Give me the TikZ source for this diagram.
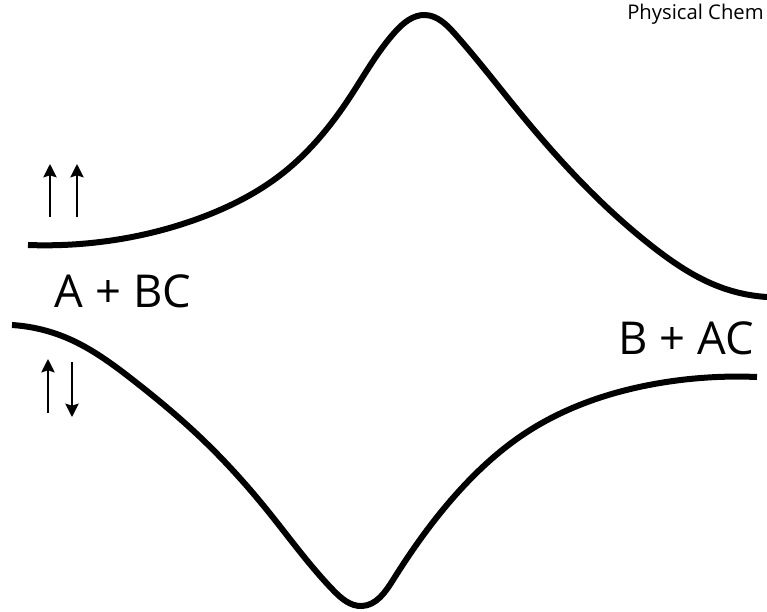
\documentclass[tikz,border=0pt]{standalone}
\usepackage{fontspec}
\setmainfont{Open Sans}
\usetikzlibrary{arrows.meta,hobby}

\begin{document}
\begin{tikzpicture}[
    x=0.75pt, y=-0.75pt,
    >={Stealth[length=10pt,width=10pt,inset=1.5pt]},
    use Hobby shortcut,
    surface/.style={line width=4.5pt, line join=round},
    spin/.style={->, line width=1.5pt},
    species/.style={inner sep=0pt, font=\fontsize{34}{40}\selectfont},
    every node/.style={text=black}
]
  \useasboundingbox (0,0) rectangle (767,611);

  % upper (triplet) surface
  \draw[surface] (28,245) .. (100,242) .. (200,218) .. (283,173)
    .. (350,97) .. (395,32) .. (425,15) .. (455,34) .. (520,113)
    .. (587,188) .. (653,247) .. (720,287) .. (767,297);

  % lower (singlet) surface
  \draw[surface] (12,325) .. (67,338) .. (133,380) .. (200,437)
    .. (267,510) .. (333,590) .. (362,606) .. (393,580) .. (460,490)
    .. (527,432) .. (593,400) .. (660,383) .. (757,377);

  % spin arrows
  \coordinate (s1a) at (50,217);  \coordinate (s1b) at (50,164);
  \coordinate (s2a) at (77,217);  \coordinate (s2b) at (77,164);
  \coordinate (s3a) at (48,413);  \coordinate (s3b) at (48,359);
  \coordinate (s4a) at (72,362);  \coordinate (s4b) at (72,417);
  \draw[spin] (s1a) -- (s1b);
  \draw[spin] (s2a) -- (s2b);
  \draw[spin] (s3a) -- (s3b);
  \draw[spin] (s4a) -- (s4b);

  % labels
  \node[species] (react) at (123,291) {A + BC};
  \node[species] (prod) at (686,338) {B + AC};
  \node[anchor=base west, inner sep=0pt, font=\fontsize{15.2}{18}\selectfont]
    (head) at (627,19) {Physical Chem};
\end{tikzpicture}
\end{document}
